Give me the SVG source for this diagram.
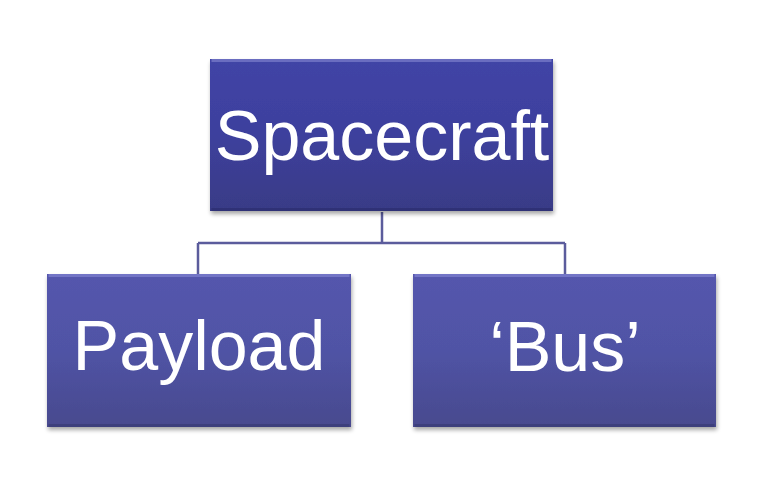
<svg xmlns="http://www.w3.org/2000/svg" width="771" height="486" viewBox="0 0 771 486">
<style>
.lbl{font-family:"Liberation Sans",Arial,sans-serif;fill:#ffffff;text-anchor:middle;font-size:70px}
.conn{fill:none;stroke:#5b5c9c;stroke-width:2.5}
.bevel{fill:none;stroke-width:3}
</style>
<defs>
<linearGradient id="gTop" x1="0" y1="0" x2="0" y2="1">
<stop offset="0" stop-color="#4144a6"/>
<stop offset="0.5" stop-color="#3d409d"/>
<stop offset="1" stop-color="#393b86"/>
</linearGradient>
<linearGradient id="gBot" x1="0" y1="0" x2="0" y2="1">
<stop offset="0" stop-color="#5456ad"/>
<stop offset="0.5" stop-color="#5053a5"/>
<stop offset="1" stop-color="#484a8e"/>
</linearGradient>
<filter id="sh" x="-10%" y="-10%" width="125%" height="130%">
<feGaussianBlur in="SourceAlpha" stdDeviation="2"/>
<feOffset dx="1" dy="3" result="b"/>
<feComponentTransfer><feFuncA type="linear" slope="0.35"/></feComponentTransfer>
<feMerge><feMergeNode/><feMergeNode in="SourceGraphic"/></feMerge>
</filter>
</defs>
<g id="connectors">
<path class="conn" d="M382 212 V243 M198 243 H565 M198 243 V274 M565 243 V274"/>
</g>
<g id="spacecraft">
<rect x="210" y="59" width="343" height="152" fill="url(#gTop)" filter="url(#sh)"/>
<path class="bevel" stroke="#6a6dc0" d="M211.5 60.5 H551.5"/>
<path class="bevel" stroke="#2f3176" d="M211.5 209.5 H551.5"/>
<text class="lbl" x="382" y="160" font-size="72">Spacecraft</text>
</g>
<g id="payload">
<rect x="47" y="274" width="304" height="153" fill="url(#gBot)" filter="url(#sh)"/>
<path class="bevel" stroke="#7375c6" d="M48.5 275.5 H349.5"/>
<path class="bevel" stroke="#3d3f7c" d="M48.5 425.5 H349.5"/>
<text class="lbl" x="199" y="370">Payload</text>
</g>
<g id="bus">
<rect x="413" y="274" width="303" height="153" fill="url(#gBot)" filter="url(#sh)"/>
<path class="bevel" stroke="#7375c6" d="M414.5 275.5 H714.5"/>
<path class="bevel" stroke="#3d3f7c" d="M414.5 425.5 H714.5"/>
<text class="lbl" x="565" y="371">‘Bus’</text>
</g>
</svg>
